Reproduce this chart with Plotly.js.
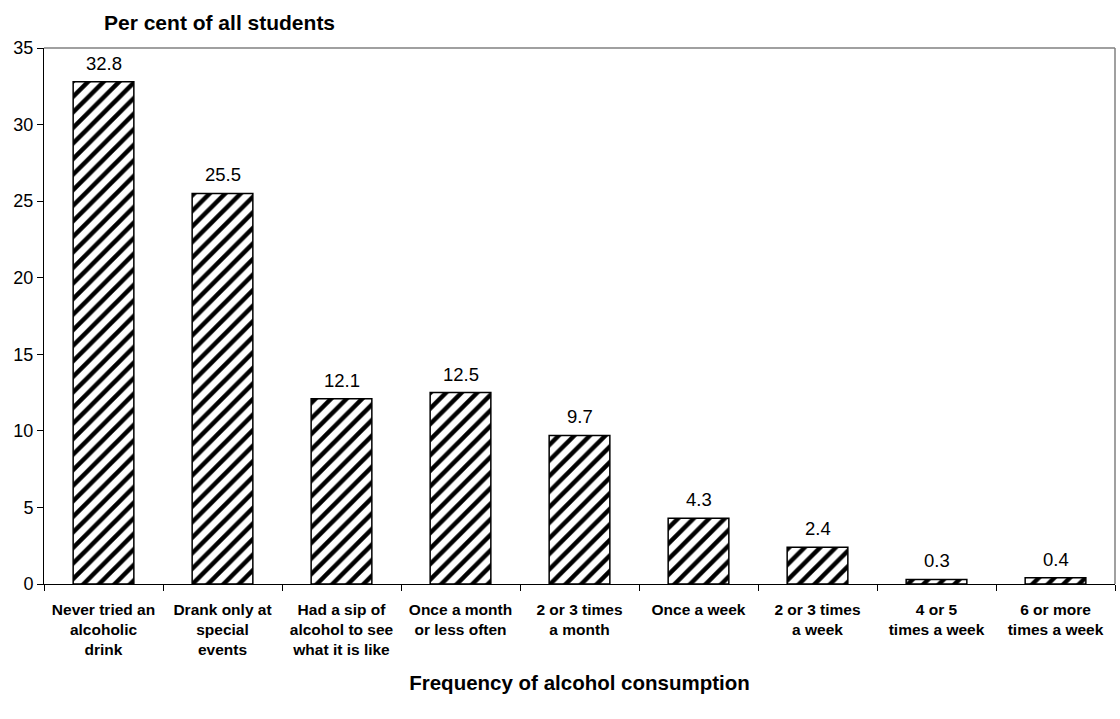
<!DOCTYPE html>
<html>
<head>
<meta charset="utf-8">
<script src="https://cdn.plot.ly/plotly-3.0.1.min.js"></script>
<style>html,body{margin:0;padding:0;background:#fff;}#chart{width:1120px;height:719px;}</style>
</head>
<body>
<div id="chart"></div>
<script>
const categories = [
  "Never tried an<br>alcoholic<br>drink",
  "Drank only at<br>special<br>events",
  "Had a sip of<br>alcohol to see<br>what it is like",
  "Once a month<br>or less often",
  "2 or 3 times<br>a month",
  "Once a week",
  "2 or 3 times<br>a week",
  "4 or 5<br>times a week",
  "6 or more<br>times a week"
];
const values = [32.8, 25.5, 12.1, 12.5, 9.7, 4.3, 2.4, 0.3, 0.4];
const yTicks = [0, 5, 10, 15, 20, 25, 30, 35];

const FONT = "Liberation Sans, Arial, sans-serif";

const trace = {
  type: "bar",
  x: categories,
  y: values,
  hoverinfo: "none",
  marker: {
    color: "#fff",
    line: {color: "#000", width: 1.5},
    pattern: {shape: "/", fgcolor: "#000", bgcolor: "#fff", size: 11, solidity: 0.4}
  }
};

const valueLabels = categories.map((c, i) => ({
  x: c, y: values[i], xref: "x", yref: "y",
  text: values[i].toFixed(1),
  showarrow: false, yanchor: "bottom", yshift: 6,
  font: {family: FONT, size: 18.5, color: "#000"}
}));

const layout = {
  width: 1120,
  height: 719,
  margin: {l: 44, r: 5, t: 48, b: 135},
  paper_bgcolor: "#fff",
  plot_bgcolor: "#fff",
  showlegend: false,
  bargap: 0.49,
  font: {family: FONT, color: "#000"},
  xaxis: {
    type: "category",
    tickson: "boundaries",
    ticks: "outside",
    ticklen: 6,
    tickcolor: "#000",
    showline: true,
    linecolor: "#000",
    linewidth: 1,
    showgrid: false,
    tickangle: 0,
    ticklabelstandoff: 11,
    tickfont: {family: FONT, size: 15.5, weight: "bold", color: "#000"},
    title: {text: "Frequency of alcohol consumption", font: {family: FONT, size: 20.5, weight: "bold", color: "#000"}, standoff: 18}
  },
  yaxis: {
    range: [0, 35],
    tickvals: yTicks,
    ticks: "outside",
    ticklen: 6,
    tickcolor: "#000",
    showline: true,
    linecolor: "#000",
    linewidth: 1,
    showgrid: false,
    zeroline: false,
    tickfont: {family: FONT, size: 18, color: "#000"}
  },
  annotations: [{
    text: "<b>Per cent of all students</b>",
    xref: "paper", yref: "paper",
    x: (219 - 44) / (1120 - 44 - 5), y: 1, xanchor: "center", yanchor: "bottom",
    yshift: 12,
    showarrow: false,
    font: {family: FONT, size: 21, color: "#000"}
  }].concat(valueLabels),
  shapes: [
    {type: "line", xref: "paper", yref: "paper", x0: 0, x1: 1, y0: 1, y1: 1, line: {color: "#808080", width: 1.5}},
    {type: "line", xref: "paper", yref: "paper", x0: 1, x1: 1, y0: 0, y1: 1, line: {color: "#808080", width: 1.5}}
  ]
};

Plotly.newPlot("chart", [trace], layout, {displayModeBar: false, staticPlot: true});
</script>
</body>
</html>
